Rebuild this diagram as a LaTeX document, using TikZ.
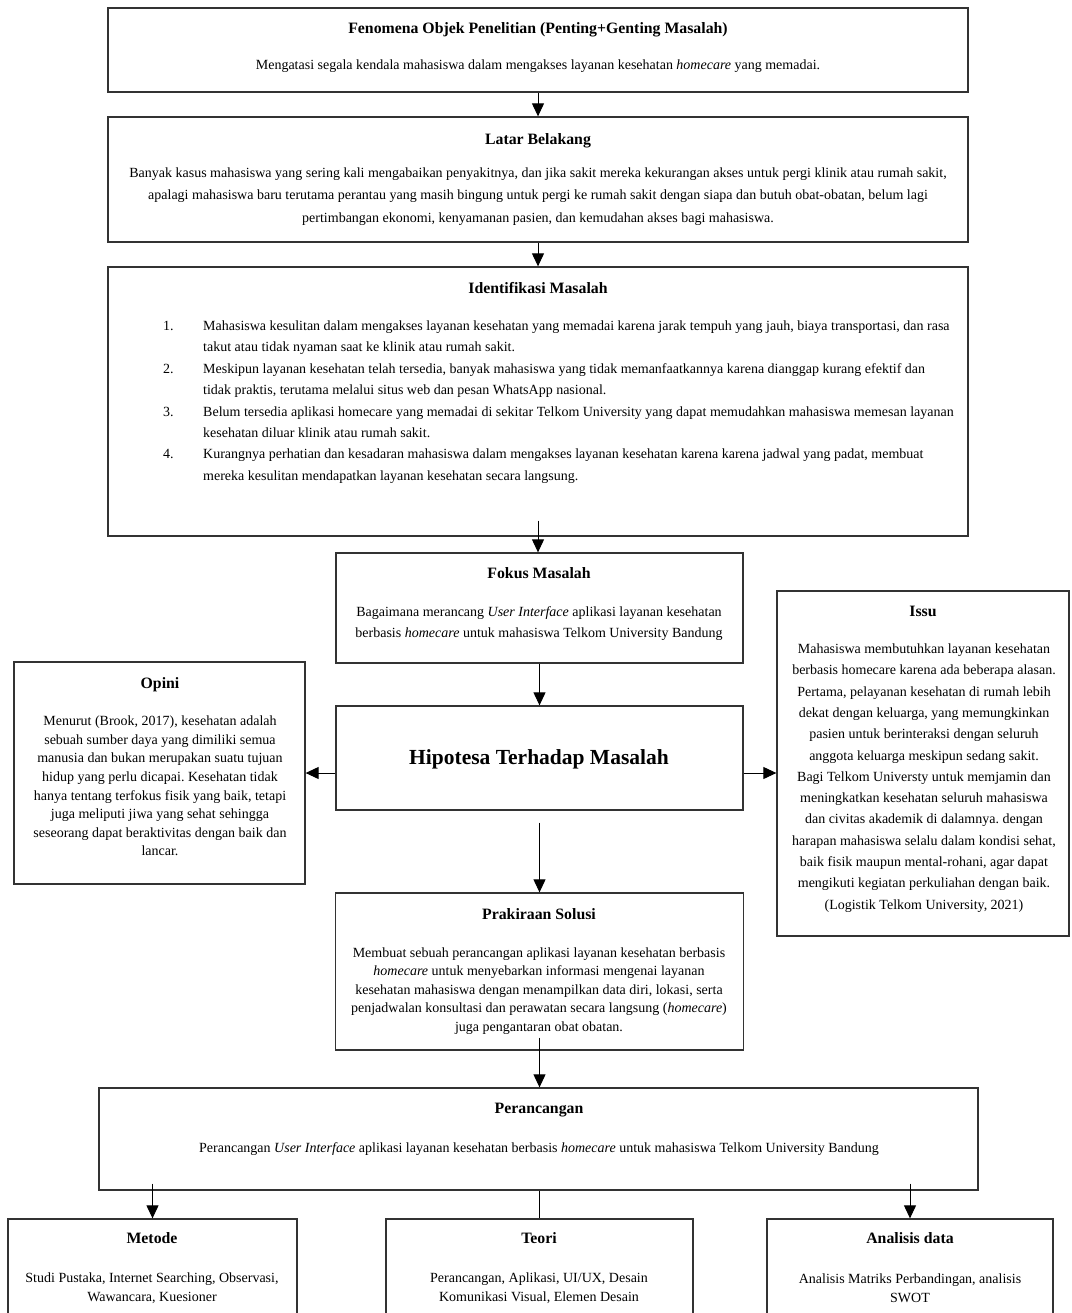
\documentclass[tikz,border=0pt]{standalone}
\usepackage{fontspec}
\setmainfont{Liberation Serif}
\usetikzlibrary{arrows.meta}
\frenchspacing

\tikzset{
  kotak/.style={draw=black!80, line width=1.3pt, inner sep=0pt},
  judul/.style={font=\fontsize{15.8}{19}\selectfont\bfseries, inner sep=0pt, text height=0.7em, text depth=0.22em, yshift=-4pt},
  isi/.style={font=\fontsize{14}{21.4}\selectfont, align=center, inner sep=0pt, yshift=-2pt},
  isirapat/.style={font=\fontsize{14}{18.6}\selectfont, align=center, inner sep=0pt, yshift=-2pt},
  panah/.style={-{Triangle[width=12pt,length=13pt]}, line width=1pt, black},
}

\begin{document}
\begin{tikzpicture}[x=1pt,y=-1pt]

\clip (0,0) rectangle (1071,1313);

\node[kotak, minimum width=860, minimum height=84] (FenomenaBox) at (538,50) {};
\node[judul] (FenomenaJudul) at (538,27) {Fenomena Objek Penelitian (Penting+Genting Masalah)};
\node[isi] (FenomenaIsi) at (538,64) {Mengatasi segala kendala mahasiswa dalam mengakses layanan kesehatan \textit{homecare} yang memadai.};

\node[kotak, minimum width=860, minimum height=125] (LatarBox) at (538,179.5) {};
\node[judul] (LatarJudul) at (538,138) {Latar Belakang};
\node[isi, font=\fontsize{14}{22.3}\selectfont] (LatarIsi) at (538,194.5) {Banyak kasus mahasiswa yang sering kali mengabaikan penyakitnya, dan jika sakit mereka kekurangan akses untuk pergi klinik atau rumah sakit,\\
apalagi mahasiswa baru terutama perantau yang masih bingung untuk pergi ke rumah sakit dengan siapa dan butuh obat-obatan, belum lagi\\
pertimbangan ekonomi, kenyamanan pasien, dan kemudahan akses bagi mahasiswa.};

\node[kotak, minimum width=860, minimum height=269] (IdentifikasiBox) at (538,401.5) {};
\node[judul] (IdentifikasiJudul) at (538,287) {Identifikasi Masalah};
\node[isi, align=left, anchor=west] (IdentifikasiIsi) at (163,400) {\makebox[40pt][l]{1.}Mahasiswa kesulitan dalam mengakses layanan kesehatan yang memadai karena jarak tempuh yang jauh, biaya transportasi, dan rasa\\
\hspace*{40pt}takut atau tidak nyaman saat ke klinik atau rumah sakit.\\
\makebox[40pt][l]{2.}Meskipun layanan kesehatan telah tersedia, banyak mahasiswa yang tidak memanfaatkannya karena dianggap kurang efektif dan\\
\hspace*{40pt}tidak praktis, terutama melalui situs web dan pesan WhatsApp nasional.\\
\makebox[40pt][l]{3.}Belum tersedia aplikasi homecare yang memadai di sekitar Telkom University yang dapat memudahkan mahasiswa memesan layanan\\
\hspace*{40pt}kesehatan diluar klinik atau rumah sakit.\\
\makebox[40pt][l]{4.}Kurangnya perhatian dan kesadaran mahasiswa dalam mengakses layanan kesehatan karena karena jadwal yang padat, membuat\\
\hspace*{40pt}mereka kesulitan mendapatkan layanan kesehatan secara langsung.};

\node[kotak, minimum width=407, minimum height=110] (FokusBox) at (539.5,608) {};
\node[judul] (FokusJudul) at (539,572) {Fokus Masalah};
\node[isi] (FokusIsi) at (539,621.5) {Bagaimana merancang \textit{User Interface} aplikasi layanan kesehatan\\
berbasis \textit{homecare} untuk mahasiswa Telkom University Bandung};

\node[kotak, minimum width=407, minimum height=104] (HipotesaBox) at (539.5,758) {};
\node[judul, font=\fontsize{21.5}{25}\selectfont\bfseries, yshift=-1pt] (HipotesaJudul) at (539,757) {Hipotesa Terhadap Masalah};

\node[kotak, minimum width=291, minimum height=222] (OpiniBox) at (159.5,773) {};
\node[judul] (OpiniJudul) at (160,682) {Opini};
\node[isirapat, yshift=1pt] (OpiniIsi) at (160,785) {Menurut (Brook, 2017), kesehatan adalah\\
sebuah sumber daya yang dimiliki semua\\
manusia dan bukan merupakan suatu tujuan\\
hidup yang perlu dicapai. Kesehatan tidak\\
hanya tentang terfokus fisik yang baik, tetapi\\
juga meliputi jiwa yang sehat sehingga\\
seseorang dapat beraktivitas dengan baik dan\\
lancar.};

\node[kotak, minimum width=292, minimum height=345] (IssuBox) at (923,763.5) {};
\node[judul] (IssuJudul) at (923,610) {Issu};
\node[isi, font=\fontsize{14}{21.3}\selectfont] (IssuIsi) at (924,776) {Mahasiswa membutuhkan layanan kesehatan\\
berbasis homecare karena ada beberapa alasan.\\
Pertama, pelayanan kesehatan di rumah lebih\\
dekat dengan keluarga, yang memungkinkan\\
pasien untuk berinteraksi dengan seluruh\\
anggota keluarga meskipun sedang sakit.\\
Bagi Telkom Universty untuk memjamin dan\\
meningkatkan kesehatan seluruh mahasiswa\\
dan civitas akademik di dalamnya. dengan\\
harapan mahasiswa selalu dalam kondisi sehat,\\
baik fisik maupun mental-rohani, agar dapat\\
mengikuti kegiatan perkuliahan dengan baik.\\
(Logistik Telkom University, 2021)};

\node[kotak, minimum width=408, minimum height=157] (PrakiraanBox) at (539.5,971.5) {};
\node[judul] (PrakiraanJudul) at (539,913) {Prakiraan Solusi};
\node[isirapat] (PrakiraanIsi) at (539,989) {Membuat sebuah perancangan aplikasi layanan kesehatan berbasis\\
\textit{homecare} untuk menyebarkan informasi mengenai layanan\\
kesehatan mahasiswa dengan menampilkan data diri, lokasi, serta\\
penjadwalan konsultasi dan perawatan secara langsung (\textit{homecare})\\
juga pengantaran obat obatan.};

\node[kotak, minimum width=879, minimum height=102] (PerancanganBox) at (538.5,1139) {};
\node[judul] (PerancanganJudul) at (539,1107) {Perancangan};
\node[isi] (PerancanganIsi) at (539,1147) {Perancangan \textit{User Interface} aplikasi layanan kesehatan berbasis \textit{homecare} untuk mahasiswa Telkom University Bandung};

\node[kotak, minimum width=289, minimum height=120] (MetodeBox) at (152.5,1279) {};
\node[judul] (MetodeJudul) at (152,1237) {Metode};
\node[isirapat] (MetodeIsi) at (152,1286) {Studi Pustaka, Internet Searching, Observasi,\\
Wawancara, Kuesioner};

\node[kotak, minimum width=307, minimum height=120] (TeoriBox) at (539.5,1279) {};
\node[judul] (TeoriJudul) at (539,1237) {Teori};
\node[isirapat] (TeoriIsi) at (539,1286) {Perancangan, Aplikasi, UI/UX, Desain\\
Komunikasi Visual, Elemen Desain};

\node[kotak, minimum width=286, minimum height=120] (AnalisisBox) at (910,1279) {};
\node[judul] (AnalisisJudul) at (910,1237) {Analisis data};
\node[isirapat] (AnalisisIsi) at (910,1286) {Analisis Matriks Perbandingan, analisis\\
SWOT};

\draw[panah] (FenomenaBox.south) -- (LatarBox.north);
\draw[panah] (LatarBox.south) -- (IdentifikasiBox.north);
\draw[panah] ([yshift=16pt]IdentifikasiBox.south) -- (IdentifikasiBox.south |- FokusBox.north);
\draw[panah] (FokusBox.south) -- (HipotesaBox.north);
\draw[panah] (HipotesaBox.west |- OpiniBox.east) -- (OpiniBox.east);
\draw[panah] (HipotesaBox.east |- OpiniBox.east) -- (IssuBox.west |- OpiniBox.east);
\draw[panah] ([yshift=-12pt]HipotesaBox.south) -- (PrakiraanBox.north);
\draw[panah] ([yshift=13pt]PrakiraanBox.south) -- (PrakiraanBox.south |- PerancanganBox.north);
\draw[panah] ([yshift=7pt]PerancanganBox.south -| MetodeBox.north) -- (MetodeBox.north);
\draw[line width=1pt] (PerancanganBox.south -| TeoriBox.north) -- (TeoriBox.north);
\draw[panah] ([yshift=7pt]PerancanganBox.south -| AnalisisBox.north) -- (AnalisisBox.north);

\end{tikzpicture}
\end{document}
